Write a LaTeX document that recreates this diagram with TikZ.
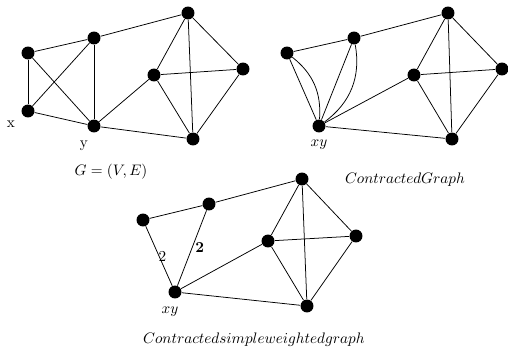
\documentclass[tikz,border=0pt]{standalone}
\usetikzlibrary{positioning}

\begin{document}
\begin{tikzpicture}[x=0.658pt, y=-0.658pt,
    vertex/.style={circle, fill=black, inner sep=0pt, minimum size=8.5pt},
    every path/.style={line width=0.5pt}]

    \useasboundingbox (0,0) rectangle (508,353);

    % Original graph
    \node[vertex] (A) at (28,53) {};
    \node[vertex] (B) at (94,38) {};
    \node[vertex] (C) at (188,13) {};
    \node[vertex] (D) at (154,75) {};
    \node[vertex] (E) at (243,69) {};
    \node[vertex] (F) at (193,139) {};
    \node[vertex] (Y) at (94,126) {};
    \node[vertex] (X) at (28,111) {};

    \foreach \a/\b in {A/B, A/X, A/Y, X/B, X/Y, B/Y, B/C, Y/D, Y/F, D/C, D/E, D/F, C/E, C/F, E/F}
    {
        \draw (\a) -- (\b);
    }

    \node at (11,124) (LX) {x};
    \node at (84,146) (LY) {y};
    \node at (111,172) (G) {$G=(V,E)$};

    % Contracted graph
    \node[vertex] (A2) at (287,53) {};
    \node[vertex] (B2) at (354,38) {};
    \node[vertex] (C2) at (448,13) {};
    \node[vertex] (D2) at (414,75) {};
    \node[vertex] (E2) at (502,69) {};
    \node[vertex] (F2) at (452,139) {};
    \node[vertex] (XY2) at (319,126) {};

    \foreach \a/\b in {A2/B2, A2/XY2, B2/XY2, B2/C2, XY2/D2, XY2/F2, D2/C2, D2/E2, D2/F2, C2/E2, C2/F2, E2/F2}
    {
        \draw (\a) -- (\b);
    }
    \draw (A2) to[bend left=28] (XY2);
    \draw (B2) to[bend left=32] (XY2);

    \node[below=1pt of XY2] (LXY2) {$xy$};
    \node at (405,180) (CG) {$Contracted Graph$};

    % Contracted simple weighted graph
    \node[vertex] (A3) at (143,220) {};
    \node[vertex] (B3) at (209,204) {};
    \node[vertex] (C3) at (302,179) {};
    \node[vertex] (D3) at (268,241) {};
    \node[vertex] (E3) at (356,236) {};
    \node[vertex] (F3) at (307,306) {};
    \node[vertex] (XY3) at (175,292) {};

    \foreach \a/\b in {A3/B3, B3/C3, XY3/D3, XY3/F3, D3/C3, D3/E3, D3/F3, C3/E3, C3/F3, E3/F3}
    {
        \draw (\a) -- (\b);
    }
    \draw (A3) -- (XY3) node[midway, right, inner sep=0.5pt, xshift=-1pt] (W1) {2};
    \draw (B3) -- (XY3) node[midway, right, inner sep=2pt] (W2) {\textbf{2}};

    \node at (170,312) (LXY3) {$xy$};
    \node at (254,340) (CSWG) {$Contracted simple weighted graph$};

\end{tikzpicture}
\end{document}
